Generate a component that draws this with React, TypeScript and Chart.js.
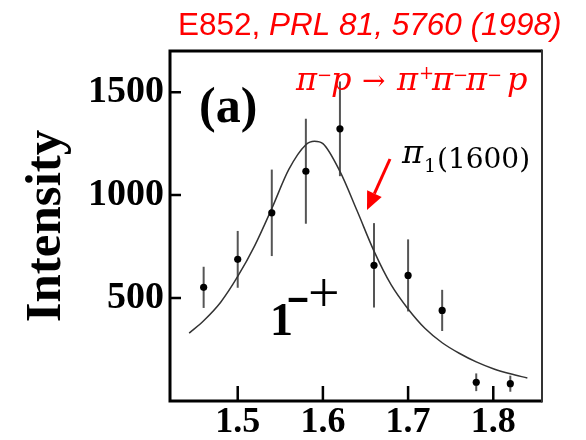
import React, { useEffect, useRef } from "react";
import { Chart, registerables } from "chart.js";

Chart.register(...registerables);

// Measured data points (mass in GeV, intensity) with symmetric errors
const massPoints = [1.46, 1.5, 1.54, 1.58, 1.62, 1.66, 1.7, 1.74, 1.78, 1.82];
const intensity = [552, 688, 914, 1116, 1322, 659, 610, 440, 91, 84];
const intensityError = [100, 138, 210, 255, 230, 205, 175, 100, 43, 39];

// Fit curve
const fitMass = [1.443, 1.46, 1.48, 1.5, 1.52, 1.54, 1.56, 1.58, 1.59, 1.6, 1.62, 1.64, 1.66, 1.68, 1.7, 1.72, 1.74, 1.76, 1.78, 1.8, 1.82, 1.84];
const fitIntensity = [330, 390, 480, 605, 755, 935, 1125, 1245, 1262, 1250, 1115, 925, 728, 565, 447, 352, 283, 232, 190, 157, 132, 112];

const xTicks = [1.5, 1.6, 1.7, 1.8];
const yTicks = [500, 1000, 1500];

const RED = "#ff0000";

const decorPlugin = {
  id: "decor",
  beforeDatasetsDraw(chart: any) {
    const { ctx, scales } = chart;
    const x = scales.x;
    const y = scales.y;
    ctx.save();
    ctx.strokeStyle = "#555";
    ctx.lineWidth = 2;
    massPoints.forEach((m, i) => {
      const px = x.getPixelForValue(m);
      ctx.beginPath();
      ctx.moveTo(px, y.getPixelForValue(intensity[i] - intensityError[i]));
      ctx.lineTo(px, y.getPixelForValue(intensity[i] + intensityError[i]));
      ctx.stroke();
    });
    ctx.restore();
  },
  afterDraw(chart: any) {
    const { ctx, chartArea: a, scales } = chart;
    const x = scales.x;
    const y = scales.y;
    ctx.save();
    // frame
    ctx.strokeStyle = "#000";
    ctx.lineWidth = 3;
    ctx.beginPath();
    ctx.moveTo(a.right, a.top);
    ctx.lineTo(a.left, a.top);
    ctx.lineTo(a.left, a.bottom);
    ctx.lineTo(a.right, a.bottom);
    ctx.stroke();
    ctx.strokeStyle = "#333";
    ctx.lineWidth = 2;
    ctx.beginPath();
    ctx.moveTo(a.right, a.top - 1.5);
    ctx.lineTo(a.right, a.bottom + 1.5);
    ctx.stroke();
    // inward ticks
    ctx.strokeStyle = "#000";
    ctx.lineWidth = 2.5;
    ctx.beginPath();
    xTicks.forEach((v) => {
      const px = x.getPixelForValue(v);
      ctx.moveTo(px, a.bottom);
      ctx.lineTo(px, a.bottom - 15);
    });
    yTicks.forEach((v) => {
      const py = y.getPixelForValue(v);
      ctx.moveTo(a.left, py);
      ctx.lineTo(a.left + 11, py);
    });
    ctx.stroke();

    // title
    ctx.fillStyle = RED;
    ctx.textBaseline = "alphabetic";
    ctx.textAlign = "left";
    ctx.font = "31.5px 'Liberation Sans', Arial, sans-serif";
    const t1 = "E852, ";
    ctx.fillText(t1, 178, 35);
    const w1 = ctx.measureText(t1).width;
    ctx.font = "italic 31.5px 'Liberation Sans', Arial, sans-serif";
    ctx.fillText("PRL 81, 5760 (1998)", 178 + w1, 35);

    // reaction
    const main = "italic 32px 'DejaVu Serif', serif";
    const sup = "18px 'DejaVu Serif', serif";
    const pieces: [string, string, number, number][] = [
      ["π", main, 296, 90],
      ["−", sup, 317, 81],
      ["p", main, 331, 90],
      ["→", "28px 'DejaVu Serif', serif", 362, 90],
      ["π", main, 397, 90],
      ["+", sup, 419, 79],
      ["π", main, 432, 90],
      ["−", sup, 453, 81],
      ["π", main, 466, 90],
      ["−", sup, 487, 81],
      ["p", main, 507, 90],
    ];
    pieces.forEach(([s, f, px, py]) => {
      ctx.font = f;
      ctx.fillText(s, px, py);
    });

    // pi1(1600)
    ctx.fillStyle = "#000";
    ctx.font = main;
    ctx.fillText("π", 402, 163);
    ctx.font = "19px 'DejaVu Serif', serif";
    ctx.fillText("1", 424, 172);
    ctx.font = "28px 'DejaVu Serif', serif";
    ctx.fillText("(1600)", 437, 168);

    // arrow
    ctx.strokeStyle = RED;
    ctx.fillStyle = RED;
    ctx.lineWidth = 3;
    const sx = 390, sy = 159, tx = 367, ty = 210;
    const dx = tx - sx, dy = ty - sy;
    const len = Math.hypot(dx, dy);
    const ux = dx / len, uy = dy / len;
    const bx = tx - 18 * ux, by = ty - 18 * uy;
    ctx.beginPath();
    ctx.moveTo(sx, sy);
    ctx.lineTo(bx, by);
    ctx.stroke();
    ctx.beginPath();
    ctx.moveTo(tx, ty);
    ctx.lineTo(bx - 8 * uy, by + 8 * ux);
    ctx.lineTo(bx + 8 * uy, by - 8 * ux);
    ctx.closePath();
    ctx.fill();

    // (a)
    ctx.fillStyle = "#000";
    ctx.font = "bold 50px 'Liberation Serif', 'Times New Roman', serif";
    ctx.fillText("(a)", 199, 122);

    // 1^-+
    ctx.font = "bold 46px 'Liberation Serif', 'Times New Roman', serif";
    ctx.fillText("1", 270, 335);
    ctx.save();
    ctx.translate(286, 311);
    ctx.scale(1.5, 1);
    ctx.font = "bold 48px 'Liberation Serif', 'Times New Roman', serif";
    ctx.fillText("-", 0, 0);
    ctx.restore();
    ctx.font = "56px 'Liberation Serif', 'Times New Roman', serif";
    ctx.fillText("+", 308, 312);
    ctx.restore();
  },
};

export default function App() {
  const ref = useRef<HTMLCanvasElement | null>(null);
  useEffect(() => {
    document.body.style.margin = "0";
    const canvas = ref.current;
    if (!canvas) return;
    const serifBold = { family: "'Liberation Serif', 'Times New Roman', serif", weight: "bold" as const };
    const chart = new Chart(canvas, {
      type: "scatter",
      data: {
        datasets: [
          {
            label: "data",
            data: massPoints.map((m, i) => ({ x: m, y: intensity[i] })),
            pointRadius: 3.6,
            pointBackgroundColor: "#000",
            pointBorderWidth: 0,
            showLine: false,
            order: 1,
          },
          {
            label: "fit",
            data: fitMass.map((m, i) => ({ x: m, y: fitIntensity[i] })),
            showLine: true,
            pointRadius: 0,
            borderColor: "#333",
            borderWidth: 1.5,
            cubicInterpolationMode: "monotone",
            order: 2,
          },
        ],
      },
      options: {
        responsive: false,
        animation: false,
        devicePixelRatio: 1,
        layout: { padding: { top: 51, right: 44, left: 0, bottom: 0 } },
        plugins: { legend: { display: false }, tooltip: { enabled: false }, title: { display: false } },
        scales: {
          x: {
            type: "linear",
            min: 1.4205,
            max: 1.8572,
            grid: { display: false, drawTicks: false },
            border: { display: false },
            afterBuildTicks: (s: any) => {
              s.ticks = xTicks.map((v) => ({ value: v }));
            },
            afterFit: (s: any) => {
              s.height = 39;
            },
            ticks: {
              autoSkip: false,
              maxRotation: 0,
              padding: 0,
              color: "#000",
              font: { ...serifBold, size: 36 },
              callback: (v: any) => Number(v).toFixed(1),
            },
          },
          y: {
            type: "linear",
            min: 0,
            max: 1700,
            grid: { display: false, drawTicks: false },
            border: { display: false },
            afterBuildTicks: (s: any) => {
              s.ticks = yTicks.map((v) => ({ value: v }));
            },
            afterFit: (s: any) => {
              s.width = 170;
            },
            ticks: {
              autoSkip: false,
              padding: 6,
              color: "#000",
              font: { ...serifBold, size: 38 },
              callback: (v: any) => String(v),
            },
            title: {
              display: true,
              text: "Intensity",
              color: "#000",
              font: { ...serifBold, size: 51 },
              padding: { top: 16, bottom: 0 },
            },
          },
        },
      },
      plugins: [decorPlugin],
    });
    return () => chart.destroy();
  }, []);
  return <canvas ref={ref} width={586} height={440} style={{ display: "block" }} />;
}
